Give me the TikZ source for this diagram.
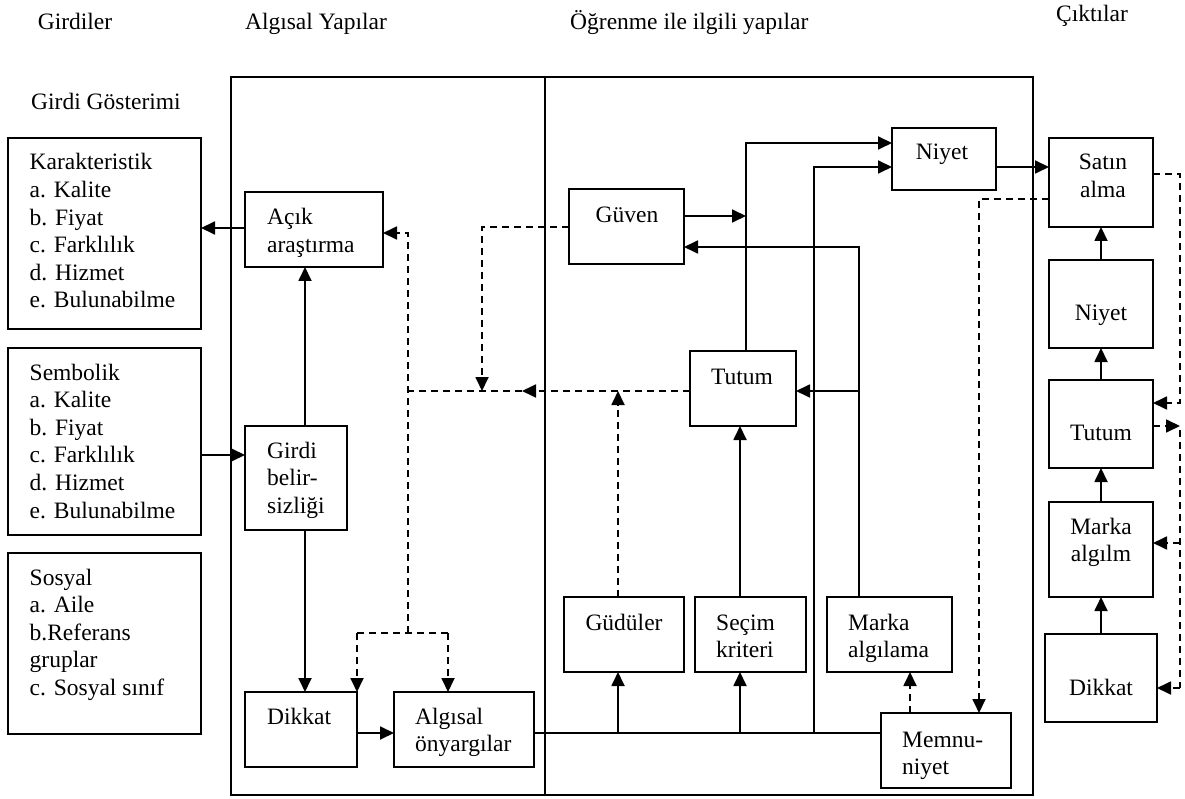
\documentclass[tikz,border=0pt]{standalone}
\usepackage{fontspec}
\setmainfont{Liberation Serif}
\usetikzlibrary{arrows.meta,calc}
\newcommand{\lcol}[1]{\begin{tabular}[t]{@{}l@{}}#1\end{tabular}}
\newcommand{\ccol}[1]{\begin{tabular}[t]{@{}c@{}}#1\end{tabular}}
% box: name, centre x, centre y, width, height (all in px units)
\newcommand{\bx}[5]{\node[box,minimum width=#4pt,minimum height=#5pt] (#1) at (#2,#3) {};}

\begin{document}
\begin{tikzpicture}[x=1pt,y=-1pt,
  every node/.style={font=\fontsize{23.5pt}{27.6pt}\selectfont},
  box/.style={draw,line width=2.1pt,rectangle,inner sep=0pt,outer sep=0pt},
  txt/.style={inner sep=0pt,anchor=base west},
  ctxt/.style={inner sep=0pt,anchor=base},
  con/.style={line width=1.8pt},
  tip/.style={-{Triangle[length=14pt,width=13pt]}},
  arr/.style={con,tip},
  dsh/.style={line width=1.8pt,dash pattern=on 7pt off 5pt},
  darr/.style={dsh,tip},
]
\useasboundingbox (0,0) rectangle (1185,799);

% column headings
\node[ctxt] (h-in)  at (75,30)   {Girdiler};
\node[ctxt] (h-alg) at (316,30)  {Algısal Yapılar};
\node[txt]  (h-ogr) at (570,30)  {Öğrenme ile ilgili yapılar};
\node[ctxt] (h-out) at (1092,22) {Çıktılar};
\node[txt]  (h-gg)  at (31,110)  {Girdi Gösterimi};

% frames of the two middle columns
\draw[line width=2.1pt] (231,77) rectangle (1033,795);
\draw[line width=2.1pt] (545,77) -- (545,795);

% input boxes
\bx{kar}{104.5}{233.5}{193}{191}
\bx{sem}{104.5}{441.5}{193}{187}
\bx{sos}{104.5}{643.5}{193}{181}
\node[txt] (t-kar) at (29.5,170) {\lcol{Karakteristik\\a. Kalite\\b. Fiyat\\c. Farklılık\\d. Hizmet\\e. Bulunabilme}};
\node[txt] (t-sem) at (29.5,380) {\lcol{Sembolik\\a. Kalite\\b. Fiyat\\c. Farklılık\\d. Hizmet\\e. Bulunabilme}};
\node[txt] (t-sos) at (29.5,585) {\lcol{Sosyal\\a. Aile\\b.Referans\\gruplar\\c. Sosyal sınıf}};

% perceptual constructs
\bx{acik}{314}{229.5}{138}{75}
\bx{girdi}{296}{478}{102}{104}
\bx{dikL}{301}{729.5}{112}{75}
\bx{alg}{464}{729.5}{140}{75}
\node[txt] (t-acik)  at (267,225) {\lcol{Açık\\araştırma}};
\node[txt] (t-girdi) at (267,458) {\lcol{Girdi\\belir-\\sizliği}};
\node[txt] (t-dikL)  at (267,724) {Dikkat};
\node[txt] (t-alg)   at (415,724) {\lcol{Algısal\\önyargılar}};

% learning constructs
\bx{guven}{626.5}{226.5}{115}{75}
\bx{tutumM}{743}{388.5}{106}{75}
\bx{niyetM}{944}{159}{104}{62}
\bx{gud}{624}{634.5}{120}{75}
\bx{secim}{750.5}{634.5}{111}{75}
\bx{marka}{889.5}{634.5}{125}{75}
\bx{memnu}{946}{750.5}{130}{75}
\node[ctxt] (t-guven)  at (627,223) {Güven};
\node[ctxt] (t-tutumM) at (742,384) {Tutum};
\node[ctxt] (t-niyetM) at (942,160) {Niyet};
\node[ctxt] (t-gud)    at (624,630) {Güdüler};
\node[txt]  (t-secim)  at (716,630) {\lcol{Seçim\\kriteri}};
\node[txt]  (t-marka)  at (848,630) {\lcol{Marka\\algılama}};
\node[txt]  (t-memnu)  at (902,747) {\lcol{Memnu-\\niyet}};

% outputs
\bx{satin}{1101}{182.5}{104}{89}
\bx{niyetR}{1101}{304}{104}{88}
\bx{tutumR}{1101}{424}{104}{88}
\bx{markaR}{1101}{549.5}{104}{95}
\bx{dikR}{1101}{678}{112}{88}
\node[ctxt] (t-satin)  at (1103,170) {\ccol{Satın\\alma}};
\node[ctxt] (t-niyetR) at (1101,320) {Niyet};
\node[ctxt] (t-tutumR) at (1101,440) {Tutum};
\node[ctxt] (t-markaR) at (1101,534) {\ccol{Marka\\algılm}};
\node[ctxt] (t-dikR)   at (1101,695) {Dikkat};

% junction points
\coordinate (jg) at (618,733);
\coordinate (js) at (740,733);
\coordinate (jn) at (814,733);
\coordinate (jt) at (746,216);
\coordinate (jm) at (859,391);
\coordinate (da) at (408,391);
\coordinate (dt) at (522,391);
\coordinate (dg) at (482,391);
\coordinate (dd) at (618,391);
\coordinate (dv) at (408,633);
\coordinate (dl) at (357,633);
\coordinate (dr) at (448,633);
\coordinate (r1) at (1180,174);
\coordinate (r2) at (1180,403);
\coordinate (r3) at (1180,426);
\coordinate (r4) at (1180,430);
\coordinate (r5) at (1180,543);
\coordinate (r6) at (1180,688);

% solid connectors
\draw[arr] ($(acik.west)+(0,-1.5)$) -- ($(kar.east)+(0,-5.5)$);
\draw[arr] ($(sem.east)+(0,13.5)$) -- ($(girdi.west)+(0,-23)$);
\draw[arr] ($(girdi.north)+(9,0)$) -- ($(acik.south)+(-9,0)$);
\draw[arr] ($(girdi.south)+(9,0)$) -- ($(dikL.north)+(4,0)$);
\draw[arr] ($(dikL.east)+(0,3.5)$) -- ($(alg.west)+(0,3.5)$);
\draw[con] ($(alg.east)+(0,3.5)$) -- ($(memnu.west)+(0,-17.5)$);
\draw[arr] (jg) -- (jg |- gud.south);
\draw[arr] (js) -- (js |- secim.south);
\draw[arr] (jn) |- ($(niyetM.west)+(0,8)$);
\draw[arr] ($(tutumM.north)+(3,0)$) |- ($(niyetM.west)+(0,-16)$);
\draw[arr] ($(guven.east)+(0,-10.5)$) -- (jt);
\draw[arr] ($(marka.north)+(-30.5,0)$) |- ($(guven.east)+(0,20.5)$);
\draw[arr] (jm) -- ($(tutumM.east)+(0,2.5)$);
\draw[arr] ($(secim.north)+(-10.5,0)$) -- ($(tutumM.south)+(-3,0)$);
\draw[arr] ($(niyetM.east)+(0,8)$) -- ($(satin.west)+(0,-15.5)$);
\draw[arr] (niyetR.north) -- (satin.south);
\draw[arr] (tutumR.north) -- (niyetR.south);
\draw[arr] (markaR.north) -- (tutumR.south);
\draw[arr] (dikR.north) -- (markaR.south);

% dashed feedback connectors
\draw[darr] ($(satin.east)+(0,-8.5)$) -- (r1) -- (r2) -- ($(tutumR.east)+(0,-21)$);
\draw[darr] ($(tutumR.east)+(0,2)$) -- (r3);
\draw[dsh] (r4) -- (r6);
\draw[darr] (r5) -- ($(markaR.east)+(0,-6.5)$);
\draw[darr] (r6) -- ($(dikR.east)+(0,10)$);
\draw[darr] ($(satin.west)+(0,16.5)$) -| ($(memnu.north)+(33,0)$);
\draw[darr] ($(memnu.north)+(-36,0)$) -- ($(marka.south)+(20.5,0)$);
\draw[darr] ($(gud.north)+(-6,0)$) -- (dd);
\draw[darr] ($(tutumM.west)+(0,2.5)$) -- (dt);
\draw[dsh] (dt) -- (da);
\draw[darr] (dv) -- ($(acik.east)+(25,3.5)$) -- ($(acik.east)+(0,3.5)$);
\draw[dsh] (dl) -- (dr);
\draw[darr] (dl) -- (dikL.north east);
\draw[darr] (dr) -- ($(alg.north)+(-16,0)$);
\draw[darr] ($(guven.west)+(0,0.5)$) -| (dg);
\end{tikzpicture}
\end{document}
